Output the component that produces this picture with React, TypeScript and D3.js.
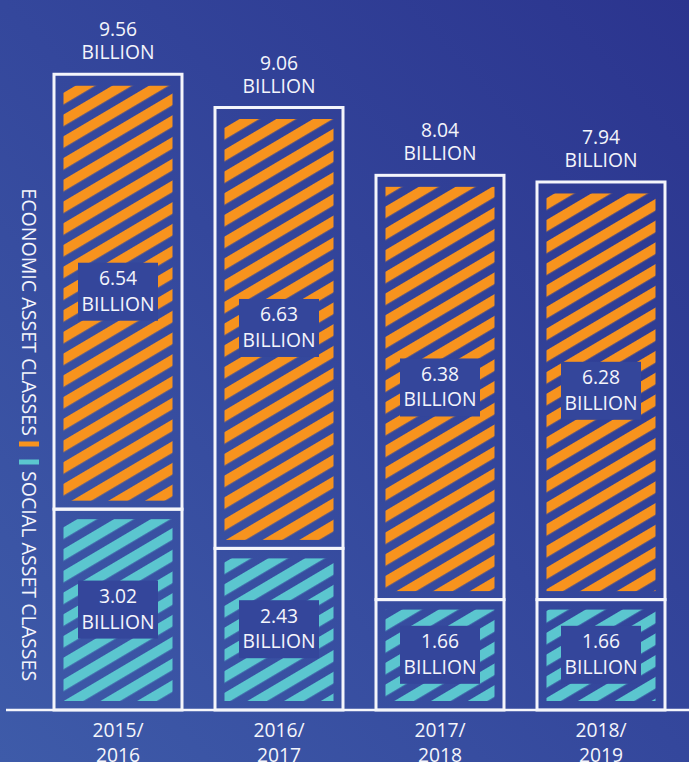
import React from "react";
import * as d3 from "d3";

const categories = ["2015/2016", "2016/2017", "2017/2018", "2018/2019"];
const economic = [6.54, 6.63, 6.38, 6.28];
const social = [3.02, 2.43, 1.66, 1.66];
const totals = [9.56, 9.06, 8.04, 7.94];
const seriesNames = ["ECONOMIC ASSET CLASSES", "SOCIAL ASSET CLASSES"];
const unit = "BILLION";

const W = 689;
const H = 762;
const ORANGE = "#f7931e";
const TEAL = "#5bc6cf";
const WHITE = "#f4f5fb";
const BOXFILL = "#34469b";
const FONT = "'Open Sans', 'Noto Sans', sans-serif";

export default function App() {
  const x = d3
    .scaleBand<string>()
    .domain(categories)
    .range([37.5, 681.5])
    .paddingInner(0.205)
    .paddingOuter(0.1025);
  const y = d3.scaleLinear().domain([0, 10]).range([710, 45]);
  const bw = x.bandwidth();
  const insetX = 9.5;
  const insetY = 10;
  const fs = 19.3;

  const segs = categories.map((c, i) => ({
    c,
    x0: x(c)!,
    soc: { top: y(social[i]), bot: y(0), v: social[i] },
    eco: { top: y(social[i] + economic[i]), bot: y(social[i]), v: economic[i] },
    total: totals[i],
  }));

  const label = (cx: number, cy: number, v: number, key: string) => (
    <g key={key}>
      <rect x={cx - 40} y={cy - 29} width={80} height={58} fill={BOXFILL} />
      <text x={cx} y={cy - 6.5} textAnchor="middle" fill={WHITE} fontSize={fs} fontFamily={FONT}>
        {v.toFixed(2)}
      </text>
      <text x={cx} y={cy + 19} textAnchor="middle" fill={WHITE} fontSize={fs} fontFamily={FONT}>
        {unit}
      </text>
    </g>
  );

  return (
    <svg
      width={W}
      height={H}
      style={{ position: "absolute", left: 0, top: 0, display: "block" }}
    >
      <defs>
        <linearGradient id="bg" x1="0" y1="1" x2="1" y2="0">
          <stop offset="0" stopColor="#3e5ba9" />
          <stop offset="0.5" stopColor="#34479c" />
          <stop offset="1" stopColor="#2b348e" />
        </linearGradient>
        <pattern
          id="stripeO"
          patternUnits="userSpaceOnUse"
          width={18.7}
          height={18.7}
          patternTransform="rotate(-30.6)"
        >
          <rect x={0} y={0} width={18.7} height={10.1} fill={ORANGE} />
        </pattern>
        <pattern
          id="stripeT"
          patternUnits="userSpaceOnUse"
          width={18.7}
          height={18.7}
          patternTransform="rotate(-30.6)"
        >
          <rect x={0} y={0} width={18.7} height={10.1} fill={TEAL} />
        </pattern>
      </defs>
      <rect x={0} y={0} width={W} height={H} fill="url(#bg)" />

      {segs.map((s, i) => (
        <g key={s.c}>
          {/* economic segment */}
          <rect
            x={s.x0 + insetX}
            y={s.eco.top + insetY + 1.5}
            width={bw - 2 * insetX}
            height={s.eco.bot - s.eco.top - 2 * insetY}
            fill="url(#stripeO)"
          />
          <rect
            x={s.x0}
            y={s.eco.top}
            width={bw}
            height={s.eco.bot - s.eco.top}
            fill="none"
            stroke={WHITE}
            strokeWidth={3}
          />
          {/* social segment */}
          <rect
            x={s.x0 + insetX}
            y={s.soc.top + insetY}
            width={bw - 2 * insetX}
            height={s.soc.bot - s.soc.top - 2 * insetY + 1}
            fill="url(#stripeT)"
          />
          <rect
            x={s.x0}
            y={s.soc.top}
            width={bw}
            height={s.soc.bot - s.soc.top}
            fill="none"
            stroke={WHITE}
            strokeWidth={3}
          />
          {label(s.x0 + bw / 2, (s.eco.top + s.eco.bot) / 2, s.eco.v, "e" + i)}
          {label(s.x0 + bw / 2, (s.soc.top + s.soc.bot) / 2, s.soc.v, "s" + i)}
          {/* total label */}
          <text x={s.x0 + bw / 2} y={s.eco.top - 38} textAnchor="middle" fill={WHITE} fontSize={fs} fontFamily={FONT}>
            {s.total.toFixed(2)}
          </text>
          <text x={s.x0 + bw / 2} y={s.eco.top - 15} textAnchor="middle" fill={WHITE} fontSize={fs} fontFamily={FONT}>
            {unit}
          </text>
          {/* category label */}
          <text x={s.x0 + bw / 2} y={737} textAnchor="middle" fill={WHITE} fontSize={fs} fontFamily={FONT}>
            {s.c.split("/")[0] + "/"}
          </text>
          <text x={s.x0 + bw / 2} y={762} textAnchor="middle" fill={WHITE} fontSize={fs} fontFamily={FONT}>
            {s.c.split("/")[1]}
          </text>
        </g>
      ))}

      {/* baseline */}
      <line x1={6} x2={W} y1={y(0)} y2={y(0)} stroke={WHITE} strokeWidth={2.5} />

      {/* legend */}
      <text
        transform="translate(21.5,436) rotate(90)"
        textAnchor="end"
        fill={WHITE}
        fontSize={19.6}
        fontFamily={FONT}
      >
        {seriesNames[0]}
      </text>
      <rect x={19} y={441.5} width={20} height={5} fill={ORANGE} />
      <rect x={19} y={459.5} width={20} height={5} fill={TEAL} />
      <text
        transform="translate(21.5,471) rotate(90)"
        textAnchor="start"
        fill={WHITE}
        fontSize={19.6}
        fontFamily={FONT}
      >
        {seriesNames[1]}
      </text>
    </svg>
  );
}
